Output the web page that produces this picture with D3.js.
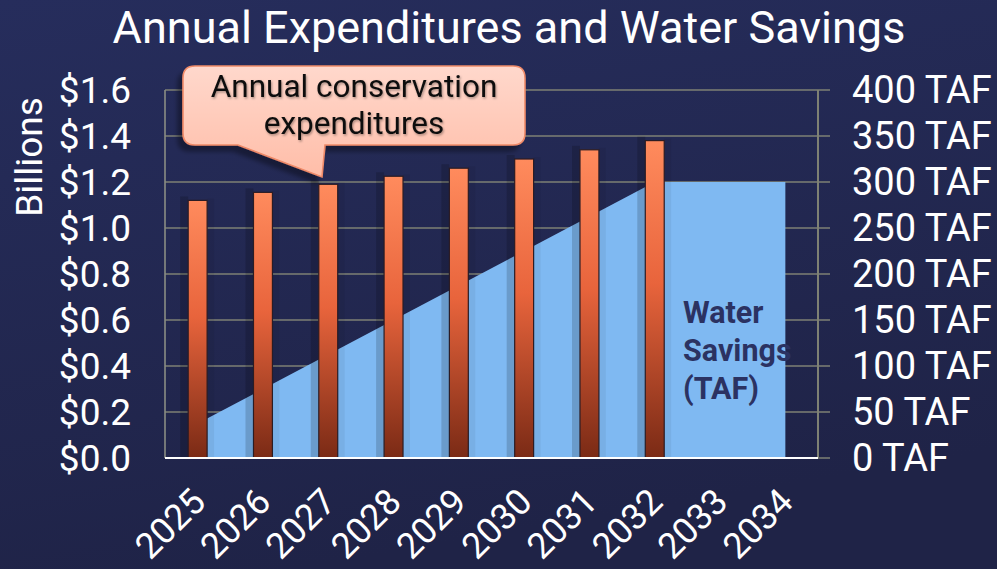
<!DOCTYPE html>
<html><head><meta charset="utf-8">
<script src="https://cdn.jsdelivr.net/npm/d3@7"></script>
<style>
html,body{margin:0;padding:0;background:#232850;}
svg{display:block;font-family:Roboto,"Noto Sans",sans-serif;}
</style></head>
<body>
<svg id="chart" width="997" height="569"></svg>
<script>
// ---- data ----
const years = ["2025","2026","2027","2028","2029","2030","2031","2032","2033","2034"];
const expenditures = [1.12, 1.155, 1.19, 1.225, 1.26, 1.30, 1.34, 1.38, null, null]; // $ billions
const savings = [37.5, 75, 112.5, 150, 187.5, 225, 262.5, 300, 300, 300];           // TAF
const leftTicks = [0, 0.2, 0.4, 0.6, 0.8, 1.0, 1.2, 1.4, 1.6];
const rightTicks = [0, 50, 100, 150, 200, 250, 300, 350, 400];
const titleText = "Annual Expenditures and Water Savings";
const calloutLines = ["Annual conservation", "expenditures"];
const areaLabel = ["Water", "Savings", "(TAF)"];

const svg = d3.select("#chart");
const W = 997, H = 569;
const plot = {left:165, right:818, top:90, bottom:458};

const defs = svg.append("defs");
const bg = defs.append("linearGradient").attr("id","bg").attr("x1","0").attr("y1","0").attr("x2","0.3").attr("y2","1");
bg.append("stop").attr("offset","0").attr("stop-color","#262d5c");
bg.append("stop").attr("offset","1").attr("stop-color","#1f2347");
const barG = defs.append("linearGradient").attr("id","barG").attr("x1","0").attr("y1","0").attr("x2","0").attr("y2","1");
barG.append("stop").attr("offset","0").attr("stop-color","#ff8b5d");
barG.append("stop").attr("offset","0.45").attr("stop-color","#e8643c");
barG.append("stop").attr("offset","1").attr("stop-color","#7a2a15");
const callG = defs.append("linearGradient").attr("id","callG").attr("x1","0").attr("y1","0").attr("x2","0").attr("y2","1");
callG.append("stop").attr("offset","0").attr("stop-color","#ffd8cc");
callG.append("stop").attr("offset","1").attr("stop-color","#ffbda8");
const sh = defs.append("filter").attr("id","shadow").attr("x","-20%").attr("y","-20%").attr("width","140%").attr("height","160%");
sh.append("feDropShadow").attr("dx",-5).attr("dy",6).attr("stdDeviation",2).attr("flood-color","#000").attr("flood-opacity",0.35);
const tsh = defs.append("filter").attr("id","tshadow");
tsh.append("feDropShadow").attr("dx",1).attr("dy",1.5).attr("stdDeviation",0.8).attr("flood-color","#000").attr("flood-opacity",0.35);

svg.append("rect").attr("width",W).attr("height",H).attr("fill","url(#bg)");

// ---- scales ----
const x = d3.scaleBand().domain(years).range([plot.left, plot.right]).padding(0);
const yL = d3.scaleLinear().domain([0,1.6]).range([plot.bottom, plot.top]);
const yR = d3.scaleLinear().domain([0,400]).range([plot.bottom, plot.top]);
const cx = d => x(d) + x.bandwidth()/2;
const barW = x.bandwidth()*0.29;

// ---- gridlines ----
svg.append("g").selectAll("line").data(rightTicks).join("line")
  .attr("x1",plot.left).attr("x2",plot.right+12)
  .attr("y1",d=>yR(d)).attr("y2",d=>yR(d))
  .attr("stroke","#7e8174").attr("stroke-width",1.6);
svg.append("line").attr("x1",plot.left).attr("x2",plot.left).attr("y1",plot.top).attr("y2",plot.bottom)
  .attr("stroke","#8a8d84").attr("stroke-width",1.6);
svg.append("line").attr("x1",plot.right).attr("x2",plot.right).attr("y1",plot.top).attr("y2",plot.bottom)
  .attr("stroke","#7e8174").attr("stroke-width",2);

// ---- area ----
const area = d3.area().x((d,i)=>cx(years[i])).y0(plot.bottom).y1(d=>yR(d));
svg.append("path").datum(savings).attr("d",area).attr("fill","#7fb9f2");

// ---- bars ----
const bdata = years.map((y,i)=>({y, v:expenditures[i]})).filter(d=>d.v!=null);
const shadows = svg.append("g");
shadows.selectAll("rect.l").data(bdata).join("rect").attr("class","l")
  .attr("x",d=>cx(d.y)-barW/2-8).attr("width",8)
  .attr("y",d=>yL(d.v)-4).attr("height",d=>plot.bottom-yL(d.v)+4)
  .attr("fill","#000").attr("opacity",0.16);
shadows.selectAll("rect.r").data(bdata).join("rect").attr("class","r")
  .attr("x",d=>cx(d.y)+barW/2).attr("width",7)
  .attr("y",d=>yL(d.v)-2).attr("height",d=>plot.bottom-yL(d.v)+2)
  .attr("fill","#000").attr("opacity",0.05);
svg.append("g").selectAll("rect").data(bdata).join("rect")
  .attr("x",d=>cx(d.y)-barW/2).attr("width",barW)
  .attr("y",d=>yL(d.v)).attr("height",d=>plot.bottom-yL(d.v))
  .attr("fill","url(#barG)").attr("stroke","#2b1c24").attr("stroke-width",1.2);

// x axis line
svg.append("line").attr("x1",plot.left).attr("x2",plot.right).attr("y1",plot.bottom).attr("y2",plot.bottom)
  .attr("stroke","#ffffff").attr("stroke-width",2.2);

// ---- area label ----
svg.append("g").selectAll("text").data(areaLabel).join("text")
  .attr("x",683).attr("y",(d,i)=>323+i*38).text(d=>d)
  .attr("font-size",30.5).attr("font-weight","bold").attr("fill","#2b3262");

// ---- axis labels ----
svg.append("g").selectAll("text").data(leftTicks).join("text")
  .attr("x",131).attr("y",d=>yL(d)).attr("dy","0.35em").attr("text-anchor","end")
  .attr("font-size",37).attr("fill","#fff").text(d=>"$"+d.toFixed(1));
svg.append("g").selectAll("text").data(rightTicks).join("text")
  .attr("x",852).attr("y",d=>yR(d)).attr("dy","0.35em").attr("text-anchor","start")
  .attr("font-size",38).attr("fill","#fff").text(d=>d+" TAF");
svg.append("g").selectAll("text").data(years).join("text")
  .attr("transform",d=>`translate(${cx(d)-8},${486}) rotate(-45)`)
  .attr("text-anchor","end").attr("dy","0.7em")
  .attr("font-size",36).attr("fill","#fff").text(d=>d);
svg.append("text").attr("transform","translate(42,157) rotate(-90)")
  .attr("text-anchor","middle").attr("font-size",37).attr("fill","#fff").text("Billions");

// ---- title ----
svg.append("text").attr("x",509).attr("y",43).attr("text-anchor","middle")
  .attr("font-size",45).attr("fill","#fff").text(titleText);

// ---- callout ----
const cg = svg.append("g").attr("filter","url(#shadow)");
const cpath = d3.path();
const L=183,R=525,T=66,B=145,r=12;
cpath.moveTo(L+r,T); cpath.lineTo(R-r,T); cpath.quadraticCurveTo(R,T,R,T+r);
cpath.lineTo(R,B-r); cpath.quadraticCurveTo(R,B,R-r,B);
cpath.lineTo(325,B); cpath.lineTo(322,177); cpath.lineTo(238,B);
cpath.lineTo(L+r,B); cpath.quadraticCurveTo(L,B,L,B-r);
cpath.lineTo(L,T+r); cpath.quadraticCurveTo(L,T,L+r,T); cpath.closePath();
cg.append("path").attr("d",cpath.toString()).attr("fill","url(#callG)").attr("stroke","#f08a68").attr("stroke-width",1.6);
svg.append("g").attr("filter","url(#tshadow)").selectAll("text").data(calloutLines).join("text")
  .attr("x",354).attr("y",(d,i)=>97+i*37).attr("text-anchor","middle")
  .attr("font-size",31.5).attr("fill","#111").text(d=>d);
</script>
</body></html>
